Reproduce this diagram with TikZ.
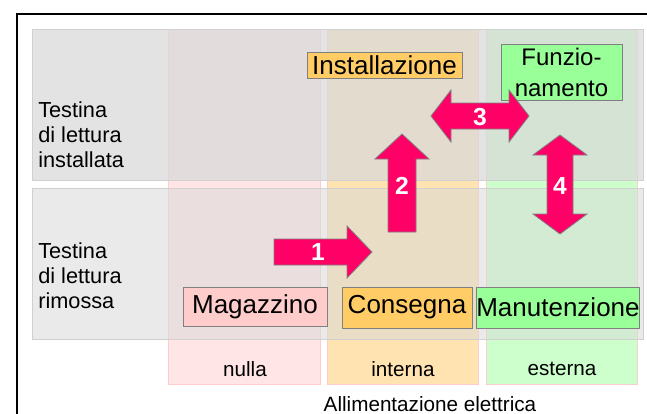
\documentclass[tikz,border=0pt]{standalone}
\usepackage{fontspec}
\setmainfont{Liberation Sans}
\usetikzlibrary{positioning}
\definecolor{pinkbox}{HTML}{FFCCCC}
\definecolor{orangebox}{HTML}{FFCC66}
\definecolor{greenbox}{HTML}{99FF99}
\definecolor{pinkcol}{HTML}{FFE5E5}
\definecolor{orangecol}{HTML}{FFE3B0}
\definecolor{greencol}{HTML}{CCFFCC}
\definecolor{bandgray}{HTML}{D9D9D9}
\definecolor{bandline}{HTML}{D0D0D0}
\definecolor{magentaarrow}{HTML}{FF0066}

\begin{document}
\begin{tikzpicture}[x=0.75pt,y=-0.75pt,
		band/.style={draw=bandline, fill=bandgray, line width=0.6pt},
		column/.style={draw=pinkbox, line width=0.6pt},
		state/.style={draw=gray, line width=0.6pt, inner sep=0pt, font=\fontsize{19.5}{23}\selectfont},
		rowlabel/.style={anchor=west, align=left, inner sep=0pt, font=\fontsize{16.3}{18.75}\selectfont},
		collabel/.style={inner sep=0pt, font=\fontsize{15.5}{18.75}\selectfont},
		fatarrow/.style={fill=magentaarrow, draw=gray, line width=0.6pt, line join=miter},
		step num/.style={text=white, inner sep=0pt, font=\fontsize{18.5}{22}\selectfont\bfseries}]
	\useasboundingbox (0,0) rectangle (647,414);
	
	% columns
	\draw[column, fill=pinkcol] (168,29) rectangle (320,384);
	\draw[column, fill=orangecol] (327,29) rectangle (478,384);
	\draw[column, fill=greencol] (486,29) rectangle (637,384);
	
	% rows
	\draw[band, fill opacity=0.73] (32,29) rectangle (643,180);
	\draw[band, fill opacity=0.55] (32,188) rectangle (643,339);
	
	% frame
	\draw[line width=1.5pt] (17,14) rectangle (700,460);
	
	\node[rowlabel] (R1) at (38,135) {Testina\\di lettura\\installata};
	\node[rowlabel] (R2) at (38,276) {Testina\\di lettura\\rimossa};
	
	\node[collabel] (N) at (245,369) {nulla};
	\node[collabel] (I) at (403,369) {interna};
	\node[collabel] (E) at (562,369) {esterna};
	\node[collabel] (AL) at (430,404) {Allimentazione elettrica};
	
	\node[state, fill=orangebox, minimum width=116.25pt, minimum height=19.5pt] (INS) at (384.5,65) {Installazione};
	\node[state, fill=greenbox, minimum width=90.75pt, minimum height=42pt, align=center, font=\fontsize{18}{23.25}\selectfont] (FUN) at (561.5,72) {Funzio-\\namento};
	\node[state, fill=pinkbox, minimum width=108pt, minimum height=29.25pt] (MAG) at (255,306.5) {Magazzino};
	\node[state, fill=orangebox, minimum width=97.5pt, minimum height=30.75pt] (CON) at (407,307.5) {Consegna};
	\node[state, fill=greenbox, minimum width=121.5pt, minimum height=30.75pt] (MAN) at (558,307.5) {Manutenzione};
	
	% arrows
	\draw[fatarrow] (274,239) -- (347,239) -- (347,226) -- (372,252) -- (347,278) -- (347,265) -- (274,265) -- cycle;
	\draw[fatarrow] (388,232) -- (388,159) -- (375,159) -- (402,134) -- (429,159) -- (416,159) -- (416,232) -- cycle;
	\draw[fatarrow] (431,116) -- (451,90) -- (451,103) -- (509,103) -- (509,90) -- (529,116) -- (509,142) -- (509,129) -- (451,129) -- (451,142) -- cycle;
	\draw[fatarrow] (560,135) -- (587,155) -- (573,155) -- (573,214) -- (587,214) -- (560,234) -- (533,214) -- (547,214) -- (547,155) -- (533,155) -- cycle;
	
	\node[step num] (S1) at (318,252) {1};
	\node[step num] (S2) at (402,186) {2};
	\node[step num] (S3) at (480,117) {3};
	\node[step num] (S4) at (560,186) {4};
\end{tikzpicture}
\end{document}
